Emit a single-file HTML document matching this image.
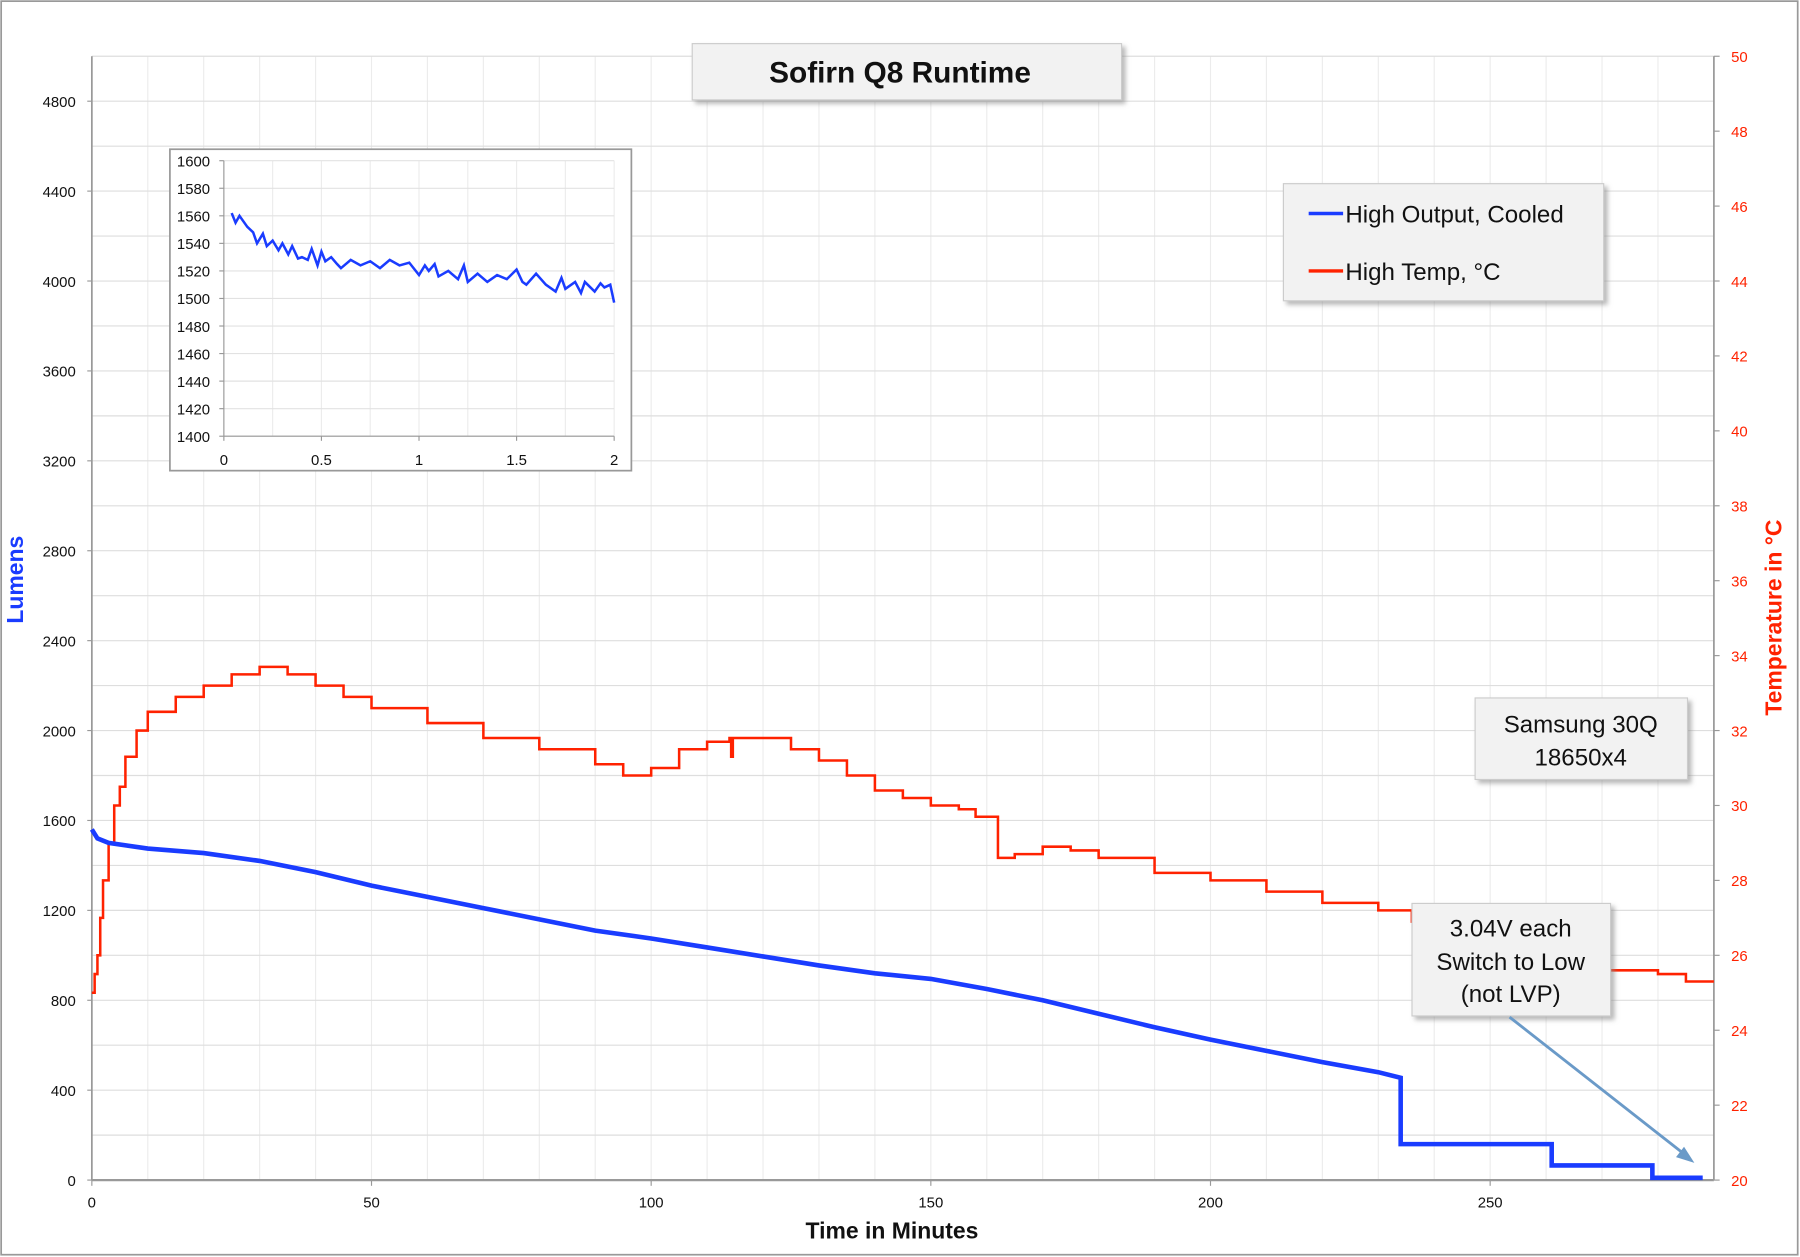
<!DOCTYPE html>
<html><head><meta charset="utf-8"><style>
html,body{margin:0;padding:0;background:#fff;}
svg{display:block;font-family:"Liberation Sans","DejaVu Sans",sans-serif;}
</style></head><body>
<svg id="chart" width="1800" height="1257" viewBox="0 0 1568 1095" xmlns="http://www.w3.org/2000/svg">
<defs><filter id="sh" x="-10%" y="-10%" width="130%" height="140%"><feDropShadow dx="3" dy="3" stdDeviation="2" flood-color="#888" flood-opacity="0.6"/></filter></defs>
<rect x="1" y="1" width="1565" height="1092" fill="#fff" stroke="#999" stroke-width="1.5"/>
<g id="grid"></g>
<g id="axes"></g>
<g id="series"></g>
<g id="inset"></g>
<text x="20" y="505" transform="rotate(-90 20 505)" text-anchor="middle" font-size="20" font-weight="bold" fill="#1a3cff">Lumens</text>
<text x="1552" y="538" transform="rotate(-90 1552 538)" text-anchor="middle" font-size="20" font-weight="bold" fill="#ff2200">Temperature in °C</text>
<text x="777" y="1079" text-anchor="middle" font-size="20" font-weight="bold" fill="#111">Time in Minutes</text>
<g><rect x="603" y="38" width="374" height="49" fill="#f2f2f2" stroke="#ccc" filter="url(#sh)"/><text x="784" y="72" text-anchor="middle" font-size="26" font-weight="bold" fill="#111">Sofirn Q8 Runtime</text></g>
<g><rect x="1118" y="160" width="279" height="102" fill="#f2f2f2" stroke="#ccc" filter="url(#sh)"/>
<line x1="1140" y1="186" x2="1170" y2="186" stroke="#1a3cff" stroke-width="3"/><text x="1172" y="194" font-size="21" fill="#111">High Output, Cooled</text>
<line x1="1140" y1="236" x2="1170" y2="236" stroke="#ff2200" stroke-width="3"/><text x="1172" y="244" font-size="21" fill="#111">High Temp, °C</text></g>
<g><rect x="1285" y="608" width="185" height="71" fill="#f2f2f2" stroke="#ccc" filter="url(#sh)"/><text x="1377" y="638" text-anchor="middle" font-size="21" fill="#111">Samsung 30Q</text><text x="1377" y="667" text-anchor="middle" font-size="21" fill="#111">18650x4</text></g>
<g><rect x="1230" y="787" width="173" height="98" fill="#f2f2f2" stroke="#ccc" filter="url(#sh)"/><text x="1316" y="816" text-anchor="middle" font-size="21" fill="#111">3.04V each</text><text x="1316" y="845" text-anchor="middle" font-size="21" fill="#111">Switch to Low</text><text x="1316" y="873" text-anchor="middle" font-size="21" fill="#111">(not LVP)</text></g>
<g><line x1="1315" y1="886" x2="1468" y2="1006" stroke="#6a9ac8" stroke-width="2.5"/><polygon points="1476,1013 1460,1008 1467,999" fill="#6a9ac8"/></g>
<script>
const lumT=[0,1,3,10,20,30,40,50,60,70,80,90,100,110,120,130,140,150,160,170,180,190,200,210,220,230,234,234,261,261,279,279,288];
const lumV=[1560,1520,1500,1475,1455,1420,1370,1310,1260,1210,1160,1110,1075,1035,995,955,920,895,850,800,740,680,625,575,525,480,455,160,160,65,65,10,10];
const tmpT=[0,0.5,1,1.5,2,3,4,5,6,8,10,15,20,25,30,35,40,45,50,60,70,80,90,95,100,105,110,114,114.3,114.6,120,125,130,135,140,145,150,155,158,162,165,170,175,180,190,200,210,220,230,236,240,250,260,270,280,285,290];
const tmpV=[25,25.5,26,27,28,29,30,30.5,31.3,32,32.5,32.9,33.2,33.5,33.7,33.5,33.2,32.9,32.6,32.2,31.8,31.5,31.1,30.8,31,31.5,31.7,31.8,31.3,31.8,31.8,31.5,31.2,30.8,30.4,30.2,30,29.9,29.7,28.6,28.7,28.9,28.8,28.6,28.2,28,27.7,27.4,27.2,26.9,26.6,26.2,25.9,25.6,25.5,25.3,25.3];
const insT=[0.04,0.06,0.08,0.1,0.12,0.15,0.17,0.2,0.22,0.25,0.28,0.3,0.33,0.35,0.38,0.4,0.43,0.45,0.48,0.5,0.52,0.55,0.58,0.6,0.65,0.7,0.75,0.8,0.85,0.9,0.95,1.0,1.03,1.05,1.08,1.1,1.15,1.2,1.23,1.25,1.3,1.35,1.4,1.45,1.5,1.53,1.55,1.6,1.65,1.7,1.73,1.75,1.8,1.83,1.85,1.9,1.93,1.95,1.98,2.0];
const insV=[1562,1555,1560,1556,1552,1548,1540,1547,1538,1542,1535,1540,1532,1538,1529,1530,1528,1536,1524,1534,1527,1530,1525,1522,1528,1524,1527,1522,1528,1524,1526,1517,1524,1520,1525,1516,1520,1514,1524,1512,1518,1512,1517,1514,1521,1512,1510,1518,1510,1505,1515,1507,1512,1504,1512,1505,1511,1508,1510,1497];
const xTicks=[0,50,100,150,200,250];
const yTicks=[0,400,800,1200,1600,2000,2400,2800,3200,3600,4000,4400,4800];
const y2Ticks=[20,22,24,26,28,30,32,34,36,38,40,42,44,46,48,50];
const insXTicks=[0,0.5,1,1.5,2];
const insYTicks=[1400,1420,1440,1460,1480,1500,1520,1540,1560,1580,1600];
const insXLabels=["0","0.5","1","1.5","2"];

const NS="http://www.w3.org/2000/svg";
const L=80,R=1493,T=49,B=1028;
const X=t=>L+(t/290)*(R-L);
const Y=v=>B-(v/5000)*(B-T);
const Y2=c=>B-((c-20)/30)*(B-T);
function mk(tag,at,parent){const e=document.createElementNS(NS,tag);for(const k in at)e.setAttribute(k,at[k]);parent.appendChild(e);return e;}
const grid=document.getElementById('grid'),axes=document.getElementById('axes'),ser=document.getElementById('series'),ins=document.getElementById('inset');
for(let t=10;t<=290;t+=10){const g=mk('line',{x1:X(t),x2:X(t),y1:T,y2:B,stroke:'#ececec','stroke-width':1},grid);

}
for(let v=200;v<=5000;v+=200){const g=mk('line',{x1:L,x2:R,y1:Y(v),y2:Y(v),stroke:'#dedede','stroke-width':1},grid);

}
mk('line',{x1:L,x2:L,y1:T,y2:B,stroke:'#999','stroke-width':1.5},axes);
mk('line',{x1:L,x2:R,y1:B,y2:B,stroke:'#999','stroke-width':2},axes);
mk('line',{x1:R,x2:R,y1:T,y2:B,stroke:'#999','stroke-width':1.5},axes);
xTicks.forEach(t=>{mk('line',{x1:X(t),x2:X(t),y1:B,y2:B+5,stroke:'#999'},axes);
const e=mk('text',{x:X(t),y:B+24,'text-anchor':'middle','font-size':13,fill:'#111'},axes);e.textContent=t;

});
yTicks.forEach(v=>{mk('line',{x1:L-4,x2:L,y1:Y(v),y2:Y(v),stroke:'#999'},axes);
const e=mk('text',{x:L-14,y:Y(v)+5,'text-anchor':'end','font-size':13,fill:'#111'},axes);e.textContent=v;

});
y2Ticks.forEach(c=>{mk('line',{x1:R,x2:R+5,y1:Y2(c),y2:Y2(c),stroke:'#999'},axes);
const e=mk('text',{x:R+15,y:Y2(c)+5,'font-size':13,fill:'#ff2200'},axes);e.textContent=c;

});
const redPts=[];
tmpT.forEach((t,i)=>{if(i>0)redPts.push(X(t)+','+Y2(tmpV[i-1]));redPts.push(X(t)+','+Y2(tmpV[i]));});
const red=mk('polyline',{points:redPts.join(' '),fill:'none',stroke:'#ff2200','stroke-width':2.2},ser);


const blue=mk('polyline',{points:lumT.map((t,i)=>X(t)+','+Y(lumV[i])).join(' '),fill:'none',stroke:'#1a3cff','stroke-width':4},ser);


const IL=195,IR=535,IT=140,IB=380;
const IX=t=>IL+(t/2)*(IR-IL),IY=v=>IB-((v-1400)/200)*(IB-IT);
const box=mk('rect',{x:148,y:130,width:402,height:280,fill:'#fff',stroke:'#999','stroke-width':1.5},ins);


[0.25,0.5,0.75,1,1.25,1.5,1.75,2].forEach(t=>mk('line',{x1:IX(t),x2:IX(t),y1:IT,y2:IB,stroke:'#ececec'},ins));
insYTicks.forEach(v=>{mk('line',{x1:IL,x2:IR,y1:IY(v),y2:IY(v),stroke:'#e2e2e2'},ins);
mk('line',{x1:IL-4,x2:IL,y1:IY(v),y2:IY(v),stroke:'#999'},ins);
const e=mk('text',{x:IL-12,y:IY(v)+5,'text-anchor':'end','font-size':13,fill:'#111'},ins);e.textContent=v;

});
mk('line',{x1:IL,x2:IL,y1:IT,y2:IB,stroke:'#999'},ins);
mk('line',{x1:IL,x2:IR,y1:IB,y2:IB,stroke:'#999'},ins);
insXTicks.forEach((t,i)=>{mk('line',{x1:IX(t),x2:IX(t),y1:IB,y2:IB+4,stroke:'#999'},ins);
const e=mk('text',{x:IX(t),y:IB+25,'text-anchor':'middle','font-size':13,fill:'#111'},ins);e.textContent=insXLabels[i];

});
const il=mk('polyline',{points:insT.map((t,i)=>IX(t)+','+IY(insV[i])).join(' '),fill:'none',stroke:'#1a3cff','stroke-width':2.2},ins);


</script>
</svg>
</body></html>
